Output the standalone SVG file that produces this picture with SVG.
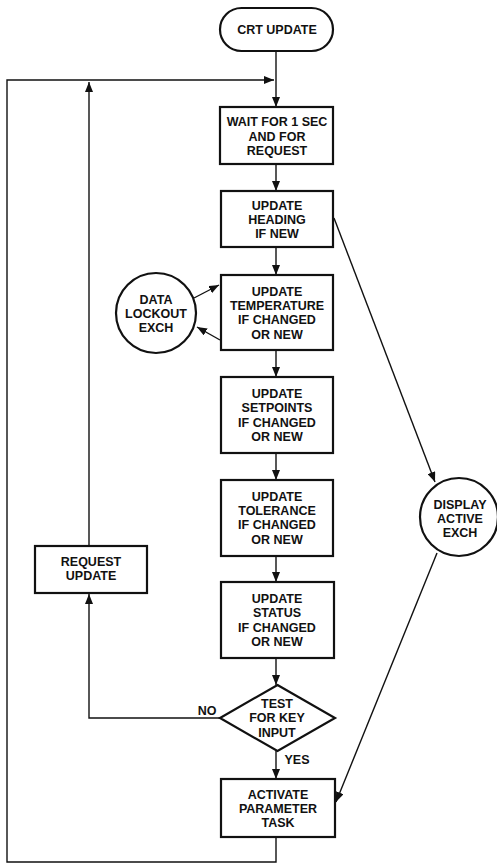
<svg xmlns="http://www.w3.org/2000/svg" width="497" height="864" viewBox="0 0 497 864">
<defs>
<style>
.box{fill:#fff;stroke:#111;stroke-width:2.2}
.ln{fill:none;stroke:#111;stroke-width:1.4}
text{font-family:"Liberation Sans",Arial,sans-serif;font-weight:bold;font-size:12.5px;fill:#111;text-anchor:middle}
</style>
<marker id="ah" viewBox="0 0 10 8" refX="10" refY="4" markerWidth="10" markerHeight="8" markerUnits="userSpaceOnUse" orient="auto">
<path d="M0,0 L10,4 L0,8 Z" fill="#111"/>
</marker>
</defs>
<rect width="497" height="864" fill="#fff"/>
<g id="connectors">
<line class="ln" x1="276" y1="51" x2="276" y2="107" marker-end="url(#ah)"/>
<polyline class="ln" points="276,837 276,862 7,862 7,80 274,80" marker-end="url(#ah)"/>
<line class="ln" x1="89" y1="546" x2="89" y2="82" marker-end="url(#ah)"/>
<line class="ln" x1="276" y1="164" x2="276" y2="191" marker-end="url(#ah)"/>
<line class="ln" x1="276" y1="247" x2="276" y2="275" marker-end="url(#ah)"/>
<line class="ln" x1="276" y1="350" x2="276" y2="377" marker-end="url(#ah)"/>
<line class="ln" x1="276" y1="453" x2="276" y2="480" marker-end="url(#ah)"/>
<line class="ln" x1="276" y1="556" x2="276" y2="582" marker-end="url(#ah)"/>
<line class="ln" x1="276" y1="658" x2="276" y2="685" marker-end="url(#ah)"/>
<line class="ln" x1="276" y1="751" x2="276" y2="779" marker-end="url(#ah)"/>
<polyline class="ln" points="220,718 89,718 89,594" marker-end="url(#ah)"/>
<line class="ln" x1="194" y1="298" x2="219" y2="285" marker-end="url(#ah)"/>
<line class="ln" x1="220" y1="340" x2="197" y2="327" marker-end="url(#ah)"/>
<line class="ln" x1="334" y1="218" x2="435" y2="482" marker-end="url(#ah)"/>
<line class="ln" x1="437" y1="553" x2="336" y2="802" marker-end="url(#ah)"/>
</g>
<g id="crt-update">
<rect class="box" x="220" y="8" width="113" height="43" rx="21.5"/>
<text x="277" y="33.5">CRT UPDATE</text>
</g>
<g id="wait">
<rect class="box" x="220" y="107" width="113" height="57"/>
<text x="277" y="126">WAIT FOR 1 SEC</text>
<text x="277" y="140.5">AND FOR</text>
<text x="277" y="155">REQUEST</text>
</g>
<g id="heading">
<rect class="box" x="221" y="191" width="112" height="56"/>
<text x="277" y="210">UPDATE</text>
<text x="277" y="224">HEADING</text>
<text x="277" y="238">IF NEW</text>
</g>
<g id="temperature">
<rect class="box" x="221" y="275" width="112" height="75"/>
<text x="277" y="295.5">UPDATE</text>
<text x="277" y="309.5">TEMPERATURE</text>
<text x="277" y="324">IF CHANGED</text>
<text x="277" y="338.5">OR NEW</text>
</g>
<g id="data-lockout">
<circle class="box" cx="156" cy="313" r="40"/>
<text x="156" y="303.5">DATA</text>
<text x="156" y="318">LOCKOUT</text>
<text x="156" y="332">EXCH</text>
</g>
<g id="setpoints">
<rect class="box" x="221" y="377" width="112" height="76"/>
<text x="277" y="398">UPDATE</text>
<text x="277" y="412">SETPOINTS</text>
<text x="277" y="426.5">IF CHANGED</text>
<text x="277" y="440.5">OR NEW</text>
</g>
<g id="tolerance">
<rect class="box" x="221" y="480" width="112" height="76"/>
<text x="277" y="500.5">UPDATE</text>
<text x="277" y="515">TOLERANCE</text>
<text x="277" y="529">IF CHANGED</text>
<text x="277" y="543.5">OR NEW</text>
</g>
<g id="display-active">
<circle class="box" cx="459" cy="517" r="39"/>
<text x="460" y="508.5">DISPLAY</text>
<text x="460" y="523">ACTIVE</text>
<text x="460" y="537">EXCH</text>
</g>
<g id="request-update">
<rect class="box" x="35" y="546" width="112" height="47"/>
<text x="91" y="565.5">REQUEST</text>
<text x="91" y="579.5">UPDATE</text>
</g>
<g id="status">
<rect class="box" x="221" y="582" width="113" height="76"/>
<text x="277" y="603">UPDATE</text>
<text x="277" y="617">STATUS</text>
<text x="277" y="631.5">IF CHANGED</text>
<text x="277" y="645.5">OR NEW</text>
</g>
<g id="test-key">
<polygon class="box" points="277.5,685 335,718 277.5,751 220,718"/>
<text x="277" y="708">TEST</text>
<text x="277" y="722">FOR KEY</text>
<text x="277" y="736.5">INPUT</text>
</g>
<g id="labels">
<text x="207" y="714.5">NO</text>
<text x="297" y="763.5">YES</text>
</g>
<g id="activate">
<rect class="box" x="221" y="779" width="114" height="58"/>
<text x="278" y="798.5">ACTIVATE</text>
<text x="278" y="813">PARAMETER</text>
<text x="278" y="827">TASK</text>
</g>
</svg>
